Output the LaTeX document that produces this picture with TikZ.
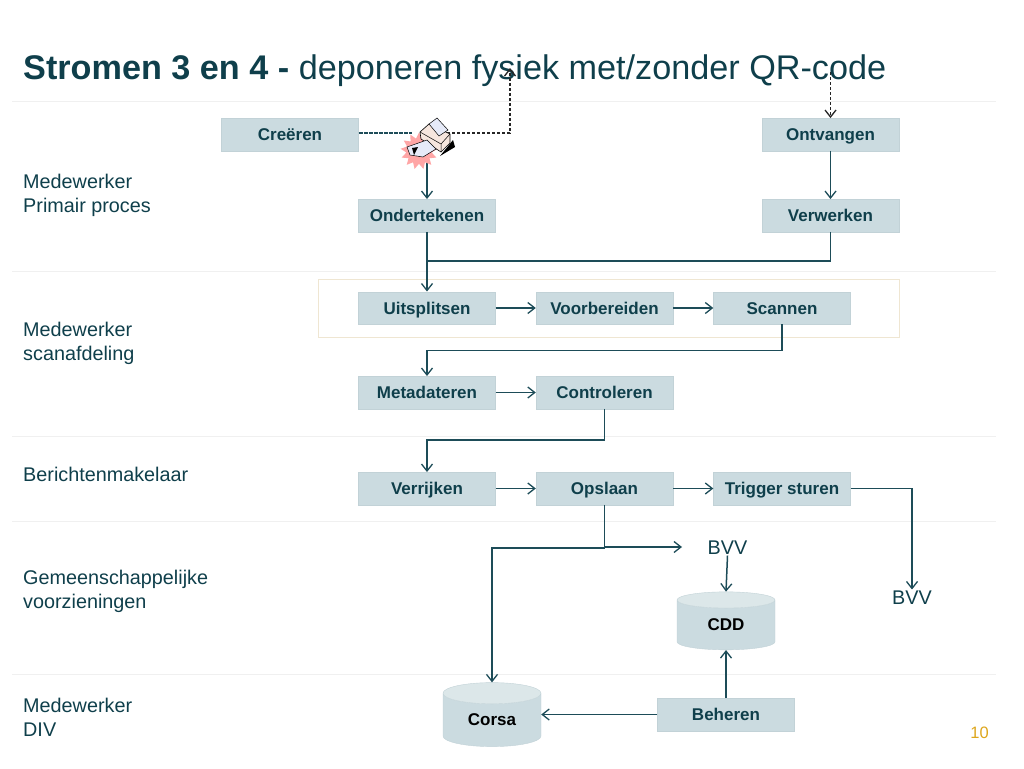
\documentclass[tikz,border=0pt]{standalone}
\usepackage{fontspec}
\setmainfont{Liberation Sans}
\usetikzlibrary{arrows.meta,shapes.geometric}
\definecolor{inkt}{HTML}{0F3F4B}
\definecolor{lijn}{HTML}{1D4C58}
\definecolor{vak}{HTML}{CBDBE0}
\definecolor{vakrand}{HTML}{C2D2D7}
\definecolor{deksel}{HTML}{DCE7E9}
\definecolor{goud}{HTML}{DDA61C}
\definecolor{kader}{HTML}{EFE6D2}
\definecolor{romp}{HTML}{F6E6DE}
\definecolor{papier}{HTML}{E6EAF8}
\begin{document}
\begin{tikzpicture}[
    x=1pt, y=-1pt,
    >={Straight Barb[length=7pt,width=11pt,line width=1.3pt]},
    stap/.style={fill=vak, draw=vakrand, line width=0.4pt, minimum width=137pt, minimum height=32.5pt,
                 inner sep=0pt, text height=15.6pt, text depth=3.4pt, text=inkt,
                 font=\fontsize{17}{19}\selectfont\bfseries},
    rol/.style={anchor=west, align=left, inner sep=0pt, text=inkt, font=\fontsize{19.8}{24}\selectfont},
    bron/.style={inner sep=1pt, text=inkt, font=\fontsize{19.8}{24}\selectfont},
    opslag/.style={cylinder, shape border rotate=90, aspect=0.44, cylinder uses custom fill,
                   cylinder body fill=vak, cylinder end fill=deksel, draw=vakrand, line width=0.4pt,
                   inner sep=0pt, minimum width=98pt, text=black, font=\fontsize{17}{19}\selectfont\bfseries},
    pijl/.style={->, lijn, line width=1.5pt},
    stip/.style={->, black!85, line width=1.2pt, dash pattern=on 3pt off 2pt},
    baan/.style={black!6, line width=0.5pt},
  ]

  % ---- achtergrond: banen en kader -----------------------------------------
  \useasboundingbox (0,0) rectangle (1024,768);
  \foreach \rij in {101,271,436,521,674}
    \draw[baan] (12,\rij) -- (996,\rij);
  \draw[draw=kader, line width=0.7pt] (318.5,279.5) rectangle (899.5,337);

  % ---- titel ----------------------------------------------------------------
  \node[anchor=base west, inner sep=0pt, text=inkt, font=\fontsize{34.2}{36}\selectfont] (titel) at (23,79)
    {\textbf{Stromen 3 en 4 -} deponeren fysiek met/zonder QR-code};

  % ---- rollen links ---------------------------------------------------------
  \node[rol] (rol1) at (23,195)   {Medewerker\\Primair proces};
  \node[rol] (rol2) at (23,343.5) {Medewerker\\scanafdeling};
  \node[rol] (rol3) at (23,474.5) {Berichtenmakelaar};
  \node[rol] (rol4) at (23,591.5) {Gemeenschappelijke\\voorzieningen};
  \node[rol] (rol5) at (23,717)   {Medewerker\\DIV};

  % ---- stappen --------------------------------------------------------------
  \node[stap] (creeren)   at (290,134.5)   {Creëren};
  \node[stap] (ontvangen) at (830.5,134.5) {Ontvangen};
  \node[stap] (onderteken) at (427,215.5)  {Ondertekenen};
  \node[stap] (verwerken) at (830.5,215.5) {Verwerken};
  \node[stap] (uitsplit)  at (427,308)     {Uitsplitsen};
  \node[stap] (voorbereid) at (604.5,308)  {Voorbereiden};
  \node[stap] (scannen)   at (782,308)     {Scannen};
  \node[stap] (metadata)  at (427,392.5)   {Metadateren};
  \node[stap] (controle)  at (604.5,392.5) {Controleren};
  \node[stap] (verrijken) at (427,488.5)   {Verrijken};
  \node[stap] (opslaan)   at (604.5,488.5) {Opslaan};
  \node[stap] (trigger)   at (782,488.5)   {Trigger sturen};
  \node[stap] (beheren)   at (726,714.5)   {Beheren};

  % ---- opslag en bestemmingen -------------------------------------------------
  \node[opslag, minimum height=58pt] (cdd)   at (726,625) {CDD};
  \node[opslag, minimum height=64pt] (corsa) at (492,720) {Corsa};
  \node[bron] (bvv1) at (727.5,547.5) {BVV};
  \node[bron] (bvv2) at (912,597.5) {BVV};

  % ---- vrije uiteinden -------------------------------------------------------
  \node[minimum size=30pt, inner sep=0pt] (printer) at (427,143) {};
  \coordinate (qruit) at (510,68);
  \coordinate (qrin)  at (830.5,72);
  \coordinate (bvvin) at (682,547);

  % ---- verbindingen ----------------------------------------------------------
  \draw[lijn, line width=1.2pt, dash pattern=on 4pt off 1pt] (creeren.east |- 0,133) -- (printer.west |- 0,133);
  \draw[stip] (printer.east |- 0,133) -- (510,133) -- (qruit);
  \draw[stip] (qrin) -- (ontvangen.north);
  \draw[pijl] (printer.south) -- (onderteken.north);
  \draw[pijl] (ontvangen) -- (verwerken);
  \draw[pijl] (onderteken) -- (uitsplit);
  \draw[lijn, line width=1.5pt] (verwerken.south) |- (427,261);
  \draw[pijl] (uitsplit) -- (voorbereid);
  \draw[pijl] (voorbereid) -- (scannen);
  \draw[pijl] (scannen.south) -- ++(0,26) -| (metadata.north);
  \draw[pijl] (metadata) -- (controle);
  \draw[pijl] (controle.south) -- ++(0,31) -| (verrijken.north);
  \draw[pijl] (verrijken) -- (opslaan);
  \draw[pijl] (opslaan) -- (trigger);
  \draw[pijl] (trigger.east) -| (bvv2.north);
  \draw[pijl] (opslaan.south) |- (bvvin);
  \draw[pijl] (opslaan.south) -- ++(0,43) -| (corsa.north);
  \draw[pijl] (bvv1.south) -- (cdd.north);
  \draw[pijl] (beheren) -- (cdd.south);
  \draw[pijl] (beheren) -- (corsa.east |- beheren);

  % ---- printer ----------------------------------------------------------------
  \node[star, star points=13, star point ratio=1.45, fill=red!35, minimum size=37pt, inner sep=0pt] (knal) at (419,151) {};
  \fill[black] (440,156) -- (453,140) -- (455,147) -- cycle;
  \draw[black, fill=romp, line width=0.6pt] (420,132) -- (429,124) -- (450,134) -- (450,143) -- (441,152) -- (421,139) -- cycle;
  \draw[black, fill=papier, line width=0.5pt] (429,124) -- (437,118) -- (448,130) -- (439,136) -- cycle;
  \draw[black, line width=0.5pt] (420,132) -- (441,144) -- (450,134) (441,144) -- (441,152);
  \draw[black, fill=papier, line width=0.5pt] (407,147) -- (427,140) -- (436,149) -- (423,157) -- (410,155) -- cycle;
  \fill[black] (412,148) -- (418,147) -- (414,155) -- cycle;

  % ---- paginanummer ----------------------------------------------------------
  \node[inner sep=0pt, text=goud, font=\fontsize{16.5}{18}\selectfont] (pagina) at (979.5,733) {10};

\end{tikzpicture}
\end{document}
